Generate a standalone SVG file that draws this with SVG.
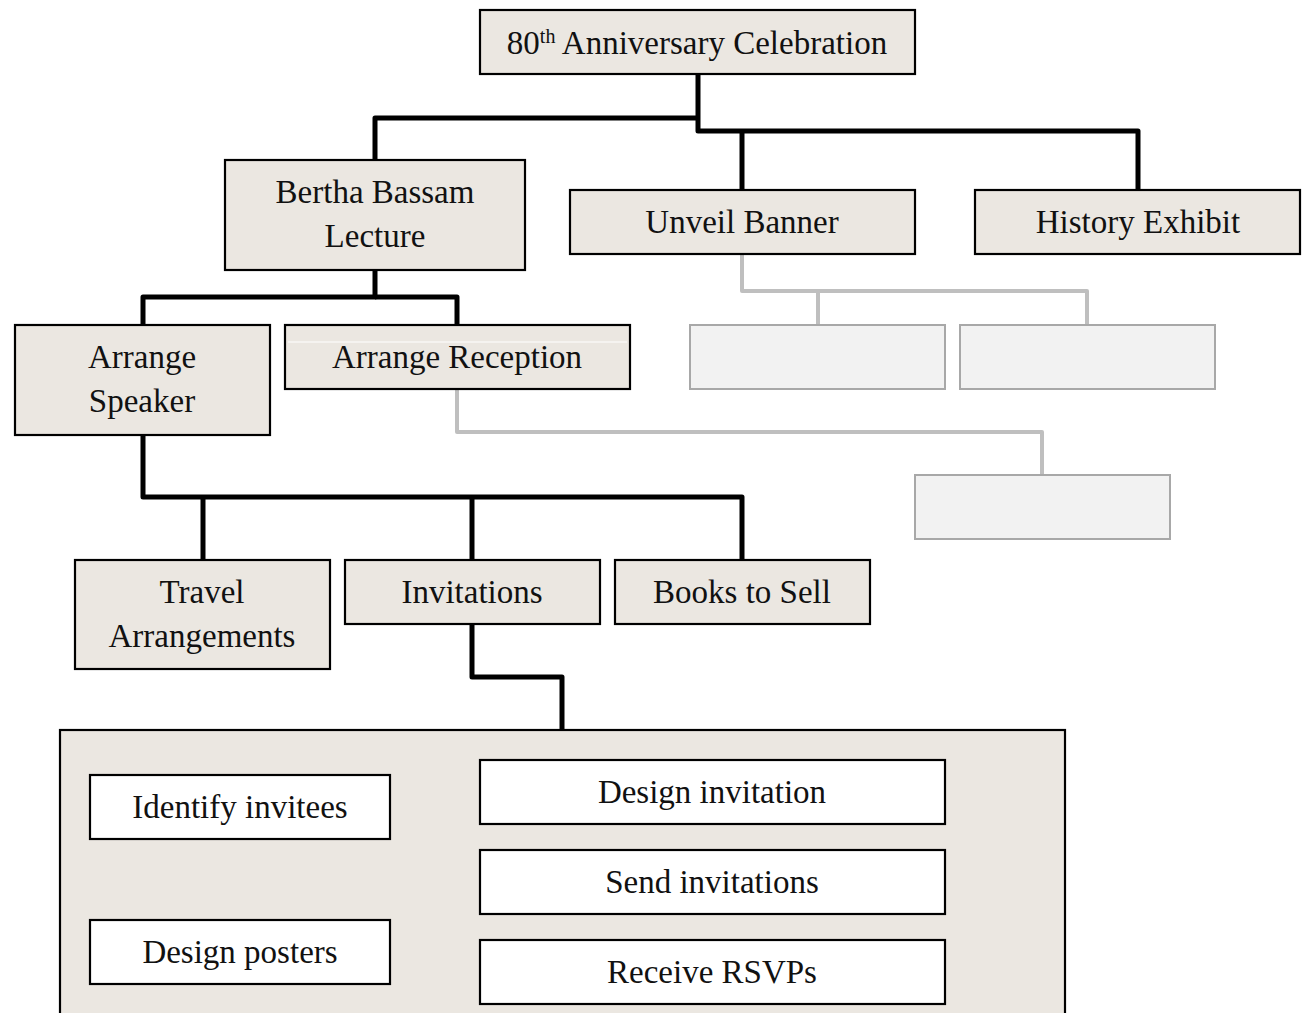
<svg xmlns="http://www.w3.org/2000/svg" width="1302" height="1013" viewBox="0 0 1302 1013">
<style>
  .box { fill: #ebe7e1; stroke: #000; stroke-width: 2.2; }
  .wbox { fill: #ffffff; stroke: #000; stroke-width: 2.2; }
  .gbox { fill: #f2f2f2; stroke: #a8a8a8; stroke-width: 2; }
  .conn { fill: none; stroke: #000; stroke-width: 5; stroke-linejoin: round; }
  .gconn { fill: none; stroke: #bfbfbf; stroke-width: 4; stroke-linejoin: round; }
  text { font-family: "Liberation Serif", "DejaVu Serif", serif; font-size: 33px; fill: #111; text-anchor: middle; }
</style>

<g id="connectors">
  <path class="conn" d="M698,74 V131 H1138 V190"/>
  <path class="conn" d="M698,118 H375 V160"/>
  <path class="conn" d="M742,131 V190"/>
  <path class="conn" d="M375,270 V297 H143 V325"/>
  <path class="conn" d="M375,297 H457 V325"/>
  <path class="conn" d="M143,435 V497 H742 V560"/>
  <path class="conn" d="M203,497 V560"/>
  <path class="conn" d="M472,497 V560"/>
  <path class="conn" d="M472,624 V677 H562 V730"/>
  <path class="gconn" d="M742,254 V291 H1087 V325"/>
  <path class="gconn" d="M818,291 V325"/>
  <path class="gconn" d="M457,389 V432 H1042 V475"/>
</g>

<g id="node-celebration">
  <rect class="box" x="480" y="10" width="435" height="64"/>
  <text x="697" y="54">80<tspan font-size="20" dy="-11">th</tspan><tspan dy="11"> Anniversary Celebration</tspan></text>
</g>

<g id="node-bertha">
  <rect class="box" x="225" y="160" width="300" height="110"/>
  <text x="375" y="203">Bertha Bassam</text>
  <text x="375" y="247">Lecture</text>
</g>

<g id="node-banner">
  <rect class="box" x="570" y="190" width="345" height="64"/>
  <text x="742" y="233">Unveil Banner</text>
</g>

<g id="node-history">
  <rect class="box" x="975" y="190" width="325" height="64"/>
  <text x="1138" y="233">History Exhibit</text>
</g>

<g id="node-speaker">
  <rect class="box" x="15" y="325" width="255" height="110"/>
  <text x="142" y="368">Arrange</text>
  <text x="142" y="412">Speaker</text>
</g>

<g id="node-reception">
  <rect class="box" x="285" y="325" width="345" height="64"/>
  <line x1="288" y1="342" x2="627" y2="342" stroke="#ffffff" stroke-width="1"/>
  <text x="457" y="368">Arrange Reception</text>
</g>

<g id="node-banner-sub1">
  <rect class="gbox" x="690" y="325" width="255" height="64"/>
</g>
<g id="node-banner-sub2">
  <rect class="gbox" x="960" y="325" width="255" height="64"/>
</g>
<g id="node-reception-sub">
  <rect class="gbox" x="915" y="475" width="255" height="64"/>
</g>

<g id="node-travel">
  <rect class="box" x="75" y="560" width="255" height="109"/>
  <text x="202" y="603">Travel</text>
  <text x="202" y="647">Arrangements</text>
</g>

<g id="node-invitations">
  <rect class="box" x="345" y="560" width="255" height="64"/>
  <text x="472" y="603">Invitations</text>
</g>

<g id="node-books">
  <rect class="box" x="615" y="560" width="255" height="64"/>
  <text x="742" y="603">Books to Sell</text>
</g>

<g id="node-invitation-tasks">
  <rect class="box" x="60" y="730" width="1005" height="300"/>
</g>

<g id="node-identify">
  <rect class="wbox" x="90" y="775" width="300" height="64"/>
  <text x="240" y="818">Identify invitees</text>
</g>

<g id="node-posters">
  <rect class="wbox" x="90" y="920" width="300" height="64"/>
  <text x="240" y="963">Design posters</text>
</g>

<g id="node-design-invitation">
  <rect class="wbox" x="480" y="760" width="465" height="64"/>
  <text x="712" y="803">Design invitation</text>
</g>

<g id="node-send">
  <rect class="wbox" x="480" y="850" width="465" height="64"/>
  <text x="712" y="893">Send invitations</text>
</g>

<g id="node-rsvp">
  <rect class="wbox" x="480" y="940" width="465" height="64"/>
  <text x="712" y="983">Receive RSVPs</text>
</g>
</svg>
